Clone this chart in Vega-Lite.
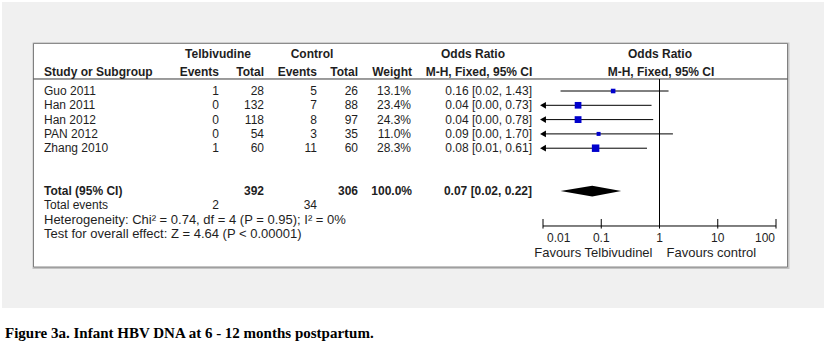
{
  "$schema": "https://vega.github.io/schema/vega-lite/v6.json",
  "width": 824,
  "height": 345,
  "autosize": {"type": "fit", "contains": "padding"},
  "padding": 0,
  "background": "white",
  "config": {
    "view": {"stroke": null},
    "text": {"font": "Liberation Sans", "fontSize": 12, "color": "#1e1e1e", "baseline": "middle"}
  },
  "datasets": {
    "studies": [
      {"study": "Guo 2011", "te": 1, "tt": 28, "ce": 5, "ct": 26, "weight": 13.1, "or": 0.16, "lo": 0.02, "hi": 1.43},
      {"study": "Han 2011", "te": 0, "tt": 132, "ce": 7, "ct": 88, "weight": 23.4, "or": 0.04, "lo": 0.0, "hi": 0.73},
      {"study": "Han 2012", "te": 0, "tt": 118, "ce": 8, "ct": 97, "weight": 24.3, "or": 0.04, "lo": 0.0, "hi": 0.78},
      {"study": "PAN 2012", "te": 0, "tt": 54, "ce": 3, "ct": 35, "weight": 11.0, "or": 0.09, "lo": 0.0, "hi": 1.70},
      {"study": "Zhang 2010", "te": 1, "tt": 60, "ce": 11, "ct": 60, "weight": 28.3, "or": 0.08, "lo": 0.01, "hi": 0.61}
    ],
    "total": [
      {"label": "Total (95% CI)", "events": "Total events", "te": 2, "tt": 392, "ce": 34, "ct": 306, "weight": 100.0, "or": 0.07, "lo": 0.02, "hi": 0.22}
    ],
    "ticks": [
      {"v": 0.01, "lab": "0.01"},
      {"v": 0.1, "lab": "0.1"},
      {"v": 1, "lab": "1"},
      {"v": 10, "lab": "10"},
      {"v": 100, "lab": "100"}
    ]
  },
  "resolve": {"scale": {"x": "independent"}},
  "layer": [
    {
      "layer": [
        {"data": {"values": [{}]}, "mark": {"type": "rect", "color": "#f0f0f0"},
         "encoding": {"x": {"datum": 2, "type": "quantitative", "scale": {"domain": [0, 824], "nice": false, "zero": false}, "axis": null}, "x2": {"datum": 824},
                      "y": {"datum": -5.22, "type": "quantitative", "scale": {"domain": [-5.364, 18.762], "reverse": true, "nice": false, "zero": false}, "axis": null}, "y2": {"datum": 16.17}}},
        {"data": {"values": [{}]}, "mark": {"type": "rect", "fill": "white", "stroke": "#c4c4c4", "strokeWidth": 2},
         "encoding": {"x": {"datum": 33.5, "type": "quantitative", "scale": {"domain": [0, 824], "nice": false, "zero": false}, "axis": null}, "x2": {"datum": 788.5},
                      "y": {"datum": -2.33, "type": "quantitative", "scale": {"domain": [-5.364, 18.762], "reverse": true, "nice": false, "zero": false}, "axis": null}, "y2": {"datum": 13.38}}},
        {"data": {"values": [{}]}, "mark": {"type": "rect", "fill": "white", "stroke": "#808080", "strokeWidth": 1},
         "encoding": {"x": {"datum": 33.5, "type": "quantitative", "scale": {"domain": [0, 824], "nice": false, "zero": false}, "axis": null}, "x2": {"datum": 787.5},
                      "y": {"datum": -2.33, "type": "quantitative", "scale": {"domain": [-5.364, 18.762], "reverse": true, "nice": false, "zero": false}, "axis": null}, "y2": {"datum": 13.31}}},
        {"data": {"values": [{}]}, "mark": {"type": "rule", "color": "#3a3a3a", "strokeWidth": 1},
         "encoding": {"x": {"datum": 33.5, "type": "quantitative", "scale": {"domain": [0, 824], "nice": false, "zero": false}, "axis": null}, "x2": {"datum": 787.5},
                      "y": {"datum": 0.16, "type": "quantitative", "scale": {"domain": [-5.364, 18.762], "reverse": true, "nice": false, "zero": false}, "axis": null}}},
        {"data": {"values": [{}]}, "mark": {"type": "text", "fontWeight": "bold", "align": "center"},
         "encoding": {"x": {"datum": 218, "type": "quantitative", "scale": {"domain": [0, 824], "nice": false, "zero": false}, "axis": null},
                      "y": {"datum": -1.59, "type": "quantitative", "scale": {"domain": [-5.364, 18.762], "reverse": true, "nice": false, "zero": false}, "axis": null},
                      "text": {"value": "Telbivudine"}}},
        {"data": {"values": [{}]}, "mark": {"type": "text", "fontWeight": "bold", "align": "center"},
         "encoding": {"x": {"datum": 312, "type": "quantitative", "scale": {"domain": [0, 824], "nice": false, "zero": false}, "axis": null},
                      "y": {"datum": -1.59, "type": "quantitative", "scale": {"domain": [-5.364, 18.762], "reverse": true, "nice": false, "zero": false}, "axis": null},
                      "text": {"value": "Control"}}},
        {"data": {"values": [{}]}, "mark": {"type": "text", "fontWeight": "bold", "align": "center"},
         "encoding": {"x": {"datum": 473, "type": "quantitative", "scale": {"domain": [0, 824], "nice": false, "zero": false}, "axis": null},
                      "y": {"datum": -1.59, "type": "quantitative", "scale": {"domain": [-5.364, 18.762], "reverse": true, "nice": false, "zero": false}, "axis": null},
                      "text": {"value": "Odds Ratio"}}},
        {"data": {"values": [{}]}, "mark": {"type": "text", "fontWeight": "bold", "align": "center"},
         "encoding": {"x": {"datum": 660, "type": "quantitative", "scale": {"domain": [0, 824], "nice": false, "zero": false}, "axis": null},
                      "y": {"datum": -1.59, "type": "quantitative", "scale": {"domain": [-5.364, 18.762], "reverse": true, "nice": false, "zero": false}, "axis": null},
                      "text": {"value": "Odds Ratio"}}},
        {"data": {"values": [{}]}, "mark": {"type": "text", "fontWeight": "bold", "align": "left"},
         "encoding": {"x": {"datum": 44, "type": "quantitative", "scale": {"domain": [0, 824], "nice": false, "zero": false}, "axis": null},
                      "y": {"datum": -0.33, "type": "quantitative", "scale": {"domain": [-5.364, 18.762], "reverse": true, "nice": false, "zero": false}, "axis": null},
                      "text": {"value": "Study or Subgroup"}}},
        {"data": {"values": [{}]}, "mark": {"type": "text", "fontWeight": "bold", "align": "right"},
         "encoding": {"x": {"datum": 219, "type": "quantitative", "scale": {"domain": [0, 824], "nice": false, "zero": false}, "axis": null},
                      "y": {"datum": -0.33, "type": "quantitative", "scale": {"domain": [-5.364, 18.762], "reverse": true, "nice": false, "zero": false}, "axis": null},
                      "text": {"value": "Events"}}},
        {"data": {"values": [{}]}, "mark": {"type": "text", "fontWeight": "bold", "align": "right"},
         "encoding": {"x": {"datum": 264, "type": "quantitative", "scale": {"domain": [0, 824], "nice": false, "zero": false}, "axis": null},
                      "y": {"datum": -0.33, "type": "quantitative", "scale": {"domain": [-5.364, 18.762], "reverse": true, "nice": false, "zero": false}, "axis": null},
                      "text": {"value": "Total"}}},
        {"data": {"values": [{}]}, "mark": {"type": "text", "fontWeight": "bold", "align": "right"},
         "encoding": {"x": {"datum": 317, "type": "quantitative", "scale": {"domain": [0, 824], "nice": false, "zero": false}, "axis": null},
                      "y": {"datum": -0.33, "type": "quantitative", "scale": {"domain": [-5.364, 18.762], "reverse": true, "nice": false, "zero": false}, "axis": null},
                      "text": {"value": "Events"}}},
        {"data": {"values": [{}]}, "mark": {"type": "text", "fontWeight": "bold", "align": "right"},
         "encoding": {"x": {"datum": 358, "type": "quantitative", "scale": {"domain": [0, 824], "nice": false, "zero": false}, "axis": null},
                      "y": {"datum": -0.33, "type": "quantitative", "scale": {"domain": [-5.364, 18.762], "reverse": true, "nice": false, "zero": false}, "axis": null},
                      "text": {"value": "Total"}}},
        {"data": {"values": [{}]}, "mark": {"type": "text", "fontWeight": "bold", "align": "right"},
         "encoding": {"x": {"datum": 412, "type": "quantitative", "scale": {"domain": [0, 824], "nice": false, "zero": false}, "axis": null},
                      "y": {"datum": -0.33, "type": "quantitative", "scale": {"domain": [-5.364, 18.762], "reverse": true, "nice": false, "zero": false}, "axis": null},
                      "text": {"value": "Weight"}}},
        {"data": {"values": [{}]}, "mark": {"type": "text", "fontWeight": "bold", "align": "center"},
         "encoding": {"x": {"datum": 479, "type": "quantitative", "scale": {"domain": [0, 824], "nice": false, "zero": false}, "axis": null},
                      "y": {"datum": -0.33, "type": "quantitative", "scale": {"domain": [-5.364, 18.762], "reverse": true, "nice": false, "zero": false}, "axis": null},
                      "text": {"value": "M-H, Fixed, 95% CI"}}},
        {"data": {"values": [{}]}, "mark": {"type": "text", "fontWeight": "bold", "align": "center"},
         "encoding": {"x": {"datum": 661, "type": "quantitative", "scale": {"domain": [0, 824], "nice": false, "zero": false}, "axis": null},
                      "y": {"datum": -0.33, "type": "quantitative", "scale": {"domain": [-5.364, 18.762], "reverse": true, "nice": false, "zero": false}, "axis": null},
                      "text": {"value": "M-H, Fixed, 95% CI"}}},
        {"data": {"name": "studies"},
         "transform": [
           {"window": [{"op": "row_number", "as": "row"}]},
           {"calculate": "format(datum.weight, '.1f') + '%'", "as": "wlab"},
           {"calculate": "format(datum.or, '.2f') + ' [' + format(datum.lo, '.2f') + ', ' + format(datum.hi, '.2f') + ']'", "as": "orlab"}
         ],
         "encoding": {"y": {"field": "row", "type": "quantitative", "scale": {"domain": [-5.364, 18.762], "reverse": true, "nice": false, "zero": false}, "axis": null}},
         "layer": [
           {"mark": {"type": "text", "align": "left"},
            "encoding": {"x": {"datum": 44, "type": "quantitative", "scale": {"domain": [0, 824], "nice": false, "zero": false}, "axis": null}, "text": {"field": "study"}}},
           {"mark": {"type": "text", "align": "right"},
            "encoding": {"x": {"datum": 219, "type": "quantitative", "scale": {"domain": [0, 824], "nice": false, "zero": false}, "axis": null}, "text": {"field": "te", "type": "quantitative"}}},
           {"mark": {"type": "text", "align": "right"},
            "encoding": {"x": {"datum": 264, "type": "quantitative", "scale": {"domain": [0, 824], "nice": false, "zero": false}, "axis": null}, "text": {"field": "tt", "type": "quantitative"}}},
           {"mark": {"type": "text", "align": "right"},
            "encoding": {"x": {"datum": 317, "type": "quantitative", "scale": {"domain": [0, 824], "nice": false, "zero": false}, "axis": null}, "text": {"field": "ce", "type": "quantitative"}}},
           {"mark": {"type": "text", "align": "right"},
            "encoding": {"x": {"datum": 358, "type": "quantitative", "scale": {"domain": [0, 824], "nice": false, "zero": false}, "axis": null}, "text": {"field": "ct", "type": "quantitative"}}},
           {"mark": {"type": "text", "align": "right"},
            "encoding": {"x": {"datum": 411, "type": "quantitative", "scale": {"domain": [0, 824], "nice": false, "zero": false}, "axis": null}, "text": {"field": "wlab"}}},
           {"mark": {"type": "text", "align": "right"},
            "encoding": {"x": {"datum": 532, "type": "quantitative", "scale": {"domain": [0, 824], "nice": false, "zero": false}, "axis": null}, "text": {"field": "orlab"}}}
         ]},
        {"data": {"name": "total"},
         "transform": [
           {"calculate": "format(datum.weight, '.1f') + '%'", "as": "wlab"},
           {"calculate": "format(datum.or, '.2f') + ' [' + format(datum.lo, '.2f') + ', ' + format(datum.hi, '.2f') + ']'", "as": "orlab"}
         ],
         "layer": [
           {"mark": {"type": "text", "align": "left", "fontWeight": "bold"},
            "encoding": {"x": {"datum": 44, "type": "quantitative", "scale": {"domain": [0, 824], "nice": false, "zero": false}, "axis": null},
                         "y": {"datum": 8, "type": "quantitative", "scale": {"domain": [-5.364, 18.762], "reverse": true, "nice": false, "zero": false}, "axis": null},
                         "text": {"field": "label"}}},
           {"mark": {"type": "text", "align": "right", "fontWeight": "bold"},
            "encoding": {"x": {"datum": 264, "type": "quantitative", "scale": {"domain": [0, 824], "nice": false, "zero": false}, "axis": null},
                         "y": {"datum": 8, "type": "quantitative", "scale": {"domain": [-5.364, 18.762], "reverse": true, "nice": false, "zero": false}, "axis": null},
                         "text": {"field": "tt", "type": "quantitative"}}},
           {"mark": {"type": "text", "align": "right", "fontWeight": "bold"},
            "encoding": {"x": {"datum": 358, "type": "quantitative", "scale": {"domain": [0, 824], "nice": false, "zero": false}, "axis": null},
                         "y": {"datum": 8, "type": "quantitative", "scale": {"domain": [-5.364, 18.762], "reverse": true, "nice": false, "zero": false}, "axis": null},
                         "text": {"field": "ct", "type": "quantitative"}}},
           {"mark": {"type": "text", "align": "right", "fontWeight": "bold"},
            "encoding": {"x": {"datum": 412, "type": "quantitative", "scale": {"domain": [0, 824], "nice": false, "zero": false}, "axis": null},
                         "y": {"datum": 8, "type": "quantitative", "scale": {"domain": [-5.364, 18.762], "reverse": true, "nice": false, "zero": false}, "axis": null},
                         "text": {"field": "wlab"}}},
           {"mark": {"type": "text", "align": "right", "fontWeight": "bold"},
            "encoding": {"x": {"datum": 532, "type": "quantitative", "scale": {"domain": [0, 824], "nice": false, "zero": false}, "axis": null},
                         "y": {"datum": 8, "type": "quantitative", "scale": {"domain": [-5.364, 18.762], "reverse": true, "nice": false, "zero": false}, "axis": null},
                         "text": {"field": "orlab"}}},
           {"mark": {"type": "text", "align": "left"},
            "encoding": {"x": {"datum": 44, "type": "quantitative", "scale": {"domain": [0, 824], "nice": false, "zero": false}, "axis": null},
                         "y": {"datum": 9, "type": "quantitative", "scale": {"domain": [-5.364, 18.762], "reverse": true, "nice": false, "zero": false}, "axis": null},
                         "text": {"field": "events"}}},
           {"mark": {"type": "text", "align": "right"},
            "encoding": {"x": {"datum": 219, "type": "quantitative", "scale": {"domain": [0, 824], "nice": false, "zero": false}, "axis": null},
                         "y": {"datum": 9, "type": "quantitative", "scale": {"domain": [-5.364, 18.762], "reverse": true, "nice": false, "zero": false}, "axis": null},
                         "text": {"field": "te", "type": "quantitative"}}},
           {"mark": {"type": "text", "align": "right"},
            "encoding": {"x": {"datum": 317, "type": "quantitative", "scale": {"domain": [0, 824], "nice": false, "zero": false}, "axis": null},
                         "y": {"datum": 9, "type": "quantitative", "scale": {"domain": [-5.364, 18.762], "reverse": true, "nice": false, "zero": false}, "axis": null},
                         "text": {"field": "ce", "type": "quantitative"}}}
         ]},
        {"data": {"values": [{}]}, "mark": {"type": "text", "align": "left", "fontSize": 13},
         "encoding": {"x": {"datum": 44, "type": "quantitative", "scale": {"domain": [0, 824], "nice": false, "zero": false}, "axis": null},
                      "y": {"datum": 10, "type": "quantitative", "scale": {"domain": [-5.364, 18.762], "reverse": true, "nice": false, "zero": false}, "axis": null},
                      "text": {"value": "Heterogeneity: Chi² = 0.74, df = 4 (P = 0.95); I² = 0%"}}},
        {"data": {"values": [{}]}, "mark": {"type": "text", "align": "left", "fontSize": 13},
         "encoding": {"x": {"datum": 44, "type": "quantitative", "scale": {"domain": [0, 824], "nice": false, "zero": false}, "axis": null},
                      "y": {"datum": 11, "type": "quantitative", "scale": {"domain": [-5.364, 18.762], "reverse": true, "nice": false, "zero": false}, "axis": null},
                      "text": {"value": "Test for overall effect: Z = 4.64 (P < 0.00001)"}}},
        {"data": {"values": [{}]}, "mark": {"type": "text", "align": "left", "font": "Liberation Serif", "fontWeight": "bold", "fontSize": 15, "color": "black"},
         "encoding": {"x": {"datum": 5, "type": "quantitative", "scale": {"domain": [0, 824], "nice": false, "zero": false}, "axis": null},
                      "y": {"datum": 17.92, "type": "quantitative", "scale": {"domain": [-5.364, 18.762], "reverse": true, "nice": false, "zero": false}, "axis": null},
                      "text": {"value": "Figure 3a. Infant HBV DNA at 6 - 12 months postpartum."}}}
      ]
    },
    {
      "layer": [
        {"data": {"values": [{}]}, "mark": {"type": "rule", "color": "black", "strokeWidth": 1},
         "encoding": {"x": {"datum": 1, "type": "quantitative", "scale": {"type": "log", "domain": [0.01, 100], "range": [543, 776], "clamp": true, "nice": false}, "axis": null},
                      "y": {"datum": 0.16, "type": "quantitative", "scale": {"domain": [-5.364, 18.762], "reverse": true, "nice": false, "zero": false}, "axis": null}, "y2": {"datum": 10.44}}},
        {"data": {"values": [{}]}, "mark": {"type": "rule", "color": "black", "strokeWidth": 1},
         "encoding": {"x": {"datum": 0.01, "type": "quantitative", "scale": {"type": "log", "domain": [0.01, 100], "range": [543, 776], "clamp": true, "nice": false}, "axis": null}, "x2": {"datum": 100},
                      "y": {"datum": 10.44, "type": "quantitative", "scale": {"domain": [-5.364, 18.762], "reverse": true, "nice": false, "zero": false}, "axis": null}}},
        {"data": {"name": "ticks"}, "mark": {"type": "rule", "color": "black", "strokeWidth": 1},
         "encoding": {"x": {"field": "v", "type": "quantitative", "scale": {"type": "log", "domain": [0.01, 100], "range": [543, 776], "clamp": true, "nice": false}, "axis": null},
                      "y": {"datum": 9.95, "type": "quantitative", "scale": {"domain": [-5.364, 18.762], "reverse": true, "nice": false, "zero": false}, "axis": null}, "y2": {"datum": 10.62}}},
        {"data": {"name": "ticks"}, "transform": [{"filter": "datum.v > 0.01 && datum.v < 100"}], "mark": {"type": "text", "align": "center"},
         "encoding": {"x": {"field": "v", "type": "quantitative", "scale": {"type": "log", "domain": [0.01, 100], "range": [543, 776], "clamp": true, "nice": false}, "axis": null},
                      "y": {"datum": 11.28, "type": "quantitative", "scale": {"domain": [-5.364, 18.762], "reverse": true, "nice": false, "zero": false}, "axis": null},
                      "text": {"field": "lab"}}},
        {"data": {"name": "ticks"}, "transform": [{"filter": "datum.v == 0.01"}], "mark": {"type": "text", "align": "left", "dx": 4},
         "encoding": {"x": {"field": "v", "type": "quantitative", "scale": {"type": "log", "domain": [0.01, 100], "range": [543, 776], "clamp": true, "nice": false}, "axis": null},
                      "y": {"datum": 11.28, "type": "quantitative", "scale": {"domain": [-5.364, 18.762], "reverse": true, "nice": false, "zero": false}, "axis": null},
                      "text": {"field": "lab"}}},
        {"data": {"name": "ticks"}, "transform": [{"filter": "datum.v == 100"}], "mark": {"type": "text", "align": "right", "dx": -1},
         "encoding": {"x": {"field": "v", "type": "quantitative", "scale": {"type": "log", "domain": [0.01, 100], "range": [543, 776], "clamp": true, "nice": false}, "axis": null},
                      "y": {"datum": 11.28, "type": "quantitative", "scale": {"domain": [-5.364, 18.762], "reverse": true, "nice": false, "zero": false}, "axis": null},
                      "text": {"field": "lab"}}},
        {"data": {"values": [{}]}, "mark": {"type": "text", "align": "right", "dx": -7, "fontSize": 13},
         "encoding": {"x": {"datum": 1, "type": "quantitative", "scale": {"type": "log", "domain": [0.01, 100], "range": [543, 776], "clamp": true, "nice": false}, "axis": null},
                      "y": {"datum": 12.33, "type": "quantitative", "scale": {"domain": [-5.364, 18.762], "reverse": true, "nice": false, "zero": false}, "axis": null},
                      "text": {"value": "Favours Telbivudinel"}}},
        {"data": {"values": [{}]}, "mark": {"type": "text", "align": "left", "dx": 7, "fontSize": 13},
         "encoding": {"x": {"datum": 1, "type": "quantitative", "scale": {"type": "log", "domain": [0.01, 100], "range": [543, 776], "clamp": true, "nice": false}, "axis": null},
                      "y": {"datum": 12.33, "type": "quantitative", "scale": {"domain": [-5.364, 18.762], "reverse": true, "nice": false, "zero": false}, "axis": null},
                      "text": {"value": "Favours control"}}},
        {"data": {"name": "studies"},
         "transform": [{"window": [{"op": "row_number", "as": "row"}]}],
         "encoding": {"y": {"field": "row", "type": "quantitative", "scale": {"domain": [-5.364, 18.762], "reverse": true, "nice": false, "zero": false}, "axis": null}},
         "layer": [
           {"mark": {"type": "rule", "color": "black", "strokeWidth": 1},
            "encoding": {"x": {"field": "lo", "type": "quantitative", "scale": {"type": "log", "domain": [0.01, 100], "range": [543, 776], "clamp": true, "nice": false}, "axis": null}, "x2": {"field": "hi"}}},
           {"transform": [{"filter": "datum.lo <= 0.01"}],
            "mark": {"type": "point", "shape": "triangle-left", "filled": true, "color": "black", "opacity": 1, "size": 46},
            "encoding": {"x": {"field": "lo", "type": "quantitative", "scale": {"type": "log", "domain": [0.01, 100], "range": [543, 776], "clamp": true, "nice": false}, "axis": null}}},
           {"mark": {"type": "square", "color": "#0000cc", "opacity": 1},
            "encoding": {"x": {"field": "or", "type": "quantitative", "scale": {"type": "log", "domain": [0.01, 100], "range": [543, 776], "clamp": true, "nice": false}, "axis": null},
                         "size": {"field": "weight", "type": "quantitative", "scale": {"domain": [11, 28.3], "range": [16, 56], "zero": false}, "legend": null}}}
         ]},
        {"data": {"name": "total"},
         "transform": [
           {"fold": ["lo", "or", "hi"], "as": ["key", "value"]},
           {"calculate": "datum.key === 'or' ? 0.37 : 0", "as": "half"},
           {"calculate": "8 - datum.half", "as": "top"},
           {"calculate": "8 + datum.half", "as": "bottom"}
         ],
         "mark": {"type": "area", "orient": "vertical", "color": "black", "opacity": 1},
         "encoding": {"x": {"field": "value", "type": "quantitative", "sort": null, "scale": {"type": "log", "domain": [0.01, 100], "range": [543, 776], "clamp": true, "nice": false}, "axis": null},
                      "y": {"field": "top", "type": "quantitative", "scale": {"domain": [-5.364, 18.762], "reverse": true, "nice": false, "zero": false}, "axis": null},
                      "y2": {"field": "bottom"}}}
      ]
    }
  ]
}
